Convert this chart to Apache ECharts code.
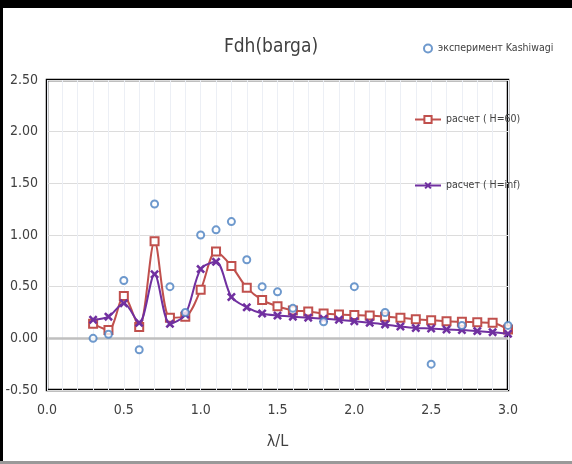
<!DOCTYPE html>
<html>
<head>
<meta charset="utf-8">
<script src="https://cdn.jsdelivr.net/npm/echarts@6/dist/echarts.min.js"></script>
<style>
html,body{margin:0;padding:0;background:#fff;}
#c{width:572px;height:464px;}
</style>
</head>
<body>
<div id="c"></div>
<script>
var lineX = [0.3,0.4,0.5,0.6,0.7,0.8,0.9,1.0,1.1,1.2,1.3,1.4,1.5,1.6,1.7,1.8,1.9,2.0,2.1,2.2,2.3,2.4,2.5,2.6,2.7,2.8,2.9,3.0];
var h60 = [0.14,0.08,0.41,0.11,0.94,0.20,0.21,0.47,0.84,0.70,0.49,0.37,0.31,0.27,0.26,0.24,0.23,0.225,0.22,0.21,0.20,0.185,0.175,0.165,0.16,0.155,0.15,0.085];
var hInf = [0.18,0.21,0.34,0.15,0.62,0.14,0.23,0.67,0.74,0.40,0.30,0.24,0.22,0.21,0.20,0.19,0.18,0.165,0.15,0.135,0.115,0.10,0.095,0.085,0.08,0.07,0.06,0.045];
var expX = [0.3,0.4,0.5,0.6,0.7,0.8,0.9,1.0,1.1,1.2,1.3,1.4,1.5,1.6,1.8,2.0,2.2,2.5,2.7,3.0];
var expY = [0.0,0.04,0.56,-0.11,1.30,0.50,0.25,1.00,1.05,1.13,0.76,0.50,0.45,0.29,0.16,0.50,0.25,-0.25,0.125,0.125];
var yTicks = [-0.5,0,0.5,1,1.5,2,2.5];
var xTicks = [0,0.5,1,1.5,2,2.5,3];
var names = ['эксперимент Kashiwagi','расчет ( H=60)','расчет ( H=inf)'];
var titleText = 'Fdh(barga)';
var xName = 'λ/L';

function pairs(xs, ys){ return xs.map(function(x,i){ return [x, ys[i]]; }); }

var FONT = "'Liberation Sans Narrow','DejaVu Sans Condensed','Roboto Condensed',sans-serif";
var crossSym = 'path://M0,2 L2,0 L5,3 L8,0 L10,2 L7,5 L10,8 L8,10 L5,7 L2,10 L0,8 L3,5 Z';

var chart = echarts.init(document.getElementById('c'), null, {renderer:'canvas'});
chart.setOption({
  animation:false,
  backgroundColor:'#fff',
  title:{text:titleText, left:266, top:33, textAlign:'center',
    textStyle:{fontFamily:FONT, fontSize:19, fontWeight:'normal', color:'#404040'}},
  graphic:[
    {type:'rect', shape:{x:0,y:0,width:572,height:8}, style:{fill:'#000'}, silent:true},
    {type:'rect', shape:{x:0,y:0,width:3,height:464}, style:{fill:'#000'}, silent:true},
    {type:'rect', shape:{x:0,y:461,width:572,height:3}, style:{fill:'#999'}, silent:true}
  ],
  legend:[
    {data:[names[0]], left:418, top:38, itemWidth:10, itemHeight:8, itemGap:4,
      textStyle:{fontFamily:FONT, fontSize:10.5, color:'#404040'}},
    {data:[names[1]], left:409, top:109, itemWidth:26, itemHeight:9,
      textStyle:{fontFamily:FONT, fontSize:10.5, color:'#404040'}},
    {data:[names[2]], left:409, top:175, itemWidth:26, itemHeight:9,
      textStyle:{fontFamily:FONT, fontSize:10.5, color:'#404040'}}
  ],
  grid:{left:47, right:64, top:80, bottom:74, show:true, borderColor:'#000', borderWidth:2.5, backgroundColor:'transparent'},
  xAxis:{type:'value', min:0, max:3, interval:0.5,
    name:xName, nameLocation:'middle', nameGap:44,
    nameTextStyle:{fontFamily:FONT, fontSize:16, color:'#404040'},
    axisLine:{show:false}, axisTick:{show:false},
    axisLabel:{margin:13, fontFamily:FONT, fontSize:14, color:'#404040', formatter:function(v){return v.toFixed(1);}},
    splitLine:{show:true, lineStyle:{color:'#eceff5', width:1}},
    minorTick:{show:false, splitNumber:5},
    minorSplitLine:{show:true, lineStyle:{color:'#eceff5', width:1}}
  },
  yAxis:{type:'value', min:-0.5, max:2.5, interval:0.5,
    axisLine:{show:false}, axisTick:{show:false},
    axisLabel:{margin:9, fontFamily:FONT, fontSize:14, color:'#404040', formatter:function(v){return v.toFixed(2);}},
    splitLine:{show:true, lineStyle:{color:'#dcdcdc', width:1}}
  },
  series:[
    {name:names[1], type:'line', data:pairs(lineX,h60), smooth:0.3,
      symbol:'emptyRect', symbolSize:8, showAllSymbol:true,
      lineStyle:{color:'#c0504d', width:2},
      itemStyle:{color:'#c0504d', borderColor:'#c0504d', borderWidth:2},
      markLine:{silent:true, symbol:'none', label:{show:false},
        lineStyle:{color:'#bfbfbf', width:2.5, type:'solid'}, data:[{yAxis:0}]},
      z:3},
    {name:names[2], type:'line', data:pairs(lineX,hInf), smooth:0.3,
      symbol:crossSym, symbolSize:9, showAllSymbol:true,
      lineStyle:{color:'#7030a0', width:2},
      itemStyle:{color:'#7030a0', borderWidth:0},
      z:4},
    {name:names[0], type:'scatter', data:pairs(expX,expY),
      symbol:'emptyCircle', symbolSize:7,
      itemStyle:{color:'#4a7fc1', borderColor:'#4a7fc1', borderWidth:2.5},
      z:5}
  ]
});
</script>
</body>
</html>
